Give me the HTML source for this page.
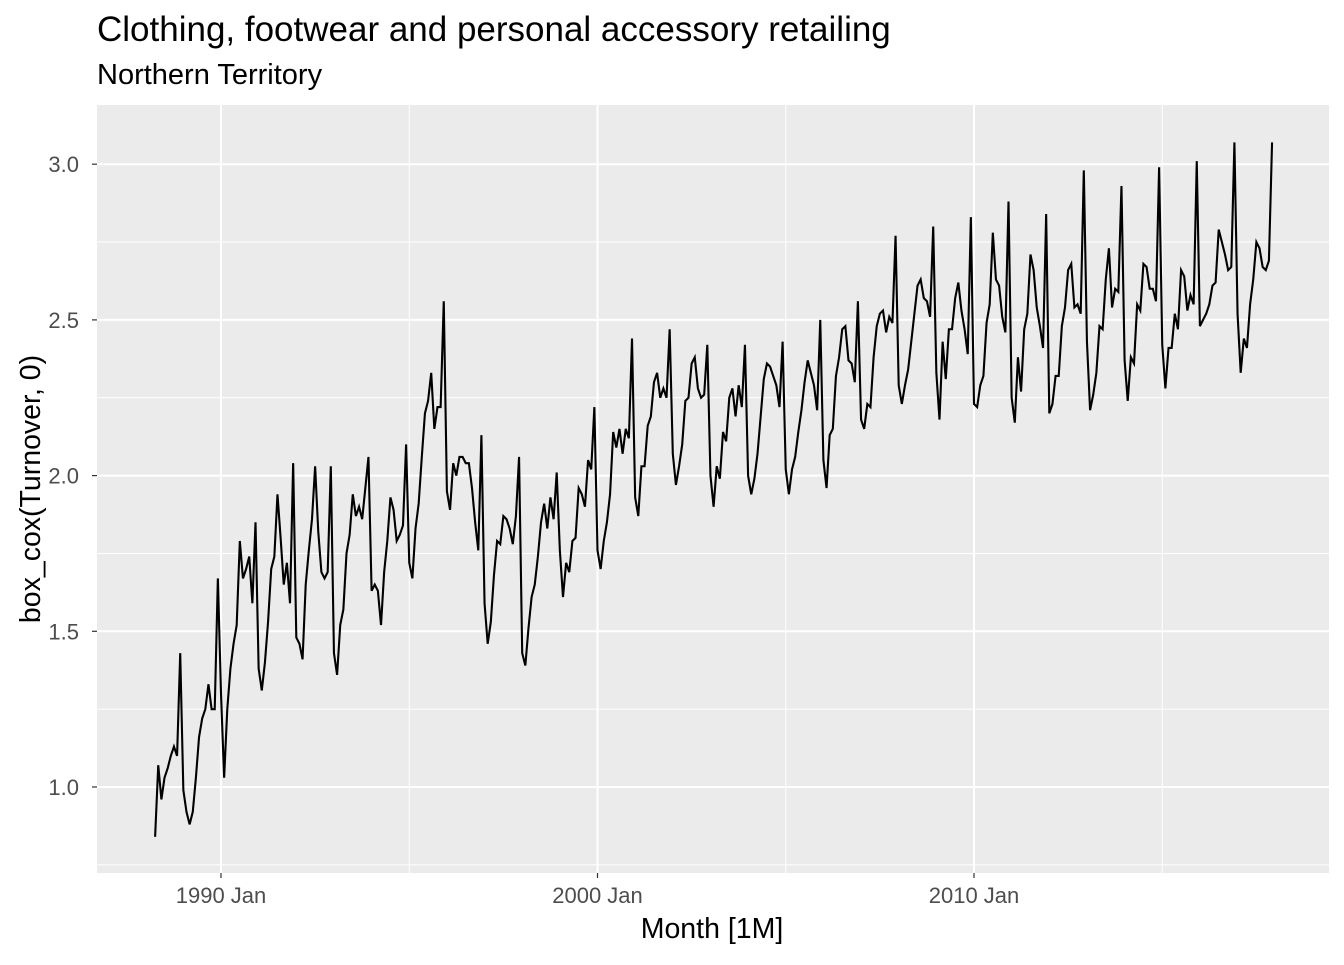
<!DOCTYPE html>
<html><head><meta charset="utf-8"><style>
body{margin:0;background:#fff;}
svg text{font-family:"Liberation Sans",sans-serif;}
</style></head><body>
<svg id="chart" width="1344" height="960">
<rect width="1344" height="960" fill="#fff"/>
<text x="97" y="41" font-size="35" fill="#000">Clothing, footwear and personal accessory retailing</text>
<text x="97" y="84" font-size="29" fill="#000">Northern Territory</text>
<rect x="97" y="105" width="1232" height="768" fill="#ebebeb"/>
<g id="grid"></g>
<g id="ticks"></g>
<path id="series" fill="none" stroke="#000" stroke-width="2.1"/>
<text x="712" y="938" font-size="28.5" text-anchor="middle">Month [1M]</text>
<text transform="translate(40,489) rotate(-90)" font-size="28.5" text-anchor="middle">box_cox(Turnover, 0)</text>
</svg>
<script>
const startYear=1988, startMonth=3; // April (0-based)
const values=[
0.84,1.07,0.96,1.03,1.06,1.10,1.13,1.10,1.43,
0.99,0.92,0.88,0.92,1.03,1.16,1.22,1.25,1.33,1.25,1.25,1.67,
1.30,1.03,1.25,1.38,1.46,1.52,1.79,1.67,1.70,1.74,1.59,1.85,
1.38,1.31,1.40,1.53,1.70,1.74,1.94,1.80,1.65,1.72,1.59,2.04,
1.48,1.46,1.41,1.65,1.76,1.86,2.03,1.82,1.69,1.67,1.69,2.03,
1.43,1.36,1.52,1.57,1.75,1.81,1.94,1.87,1.90,1.86,1.96,2.06,
1.63,1.65,1.63,1.52,1.69,1.79,1.93,1.89,1.79,1.81,1.84,2.10,
1.72,1.67,1.83,1.91,2.06,2.20,2.24,2.33,2.15,2.22,2.22,2.56,
1.95,1.89,2.04,2.00,2.06,2.06,2.04,2.04,1.96,1.85,1.76,2.13,
1.59,1.46,1.53,1.68,1.79,1.78,1.87,1.86,1.83,1.78,1.87,2.06,
1.43,1.39,1.51,1.61,1.65,1.74,1.85,1.91,1.83,1.93,1.86,2.01,
1.76,1.61,1.72,1.69,1.79,1.80,1.96,1.94,1.90,2.05,2.02,2.22,
1.76,1.70,1.79,1.85,1.94,2.14,2.09,2.15,2.07,2.15,2.12,2.44,
1.93,1.87,2.03,2.03,2.16,2.19,2.30,2.33,2.25,2.28,2.25,2.47,
2.07,1.97,2.03,2.10,2.24,2.25,2.36,2.38,2.28,2.25,2.26,2.42,
2.00,1.90,2.03,1.99,2.14,2.11,2.25,2.28,2.19,2.29,2.22,2.42,
2.00,1.94,1.99,2.07,2.19,2.31,2.36,2.35,2.32,2.29,2.22,2.43,
2.02,1.94,2.02,2.06,2.14,2.21,2.30,2.37,2.33,2.29,2.21,2.50,
2.05,1.96,2.13,2.15,2.32,2.38,2.47,2.48,2.37,2.36,2.30,2.56,
2.18,2.15,2.23,2.22,2.38,2.48,2.52,2.53,2.46,2.51,2.49,2.77,
2.29,2.23,2.29,2.34,2.43,2.52,2.61,2.63,2.57,2.56,2.51,2.80,
2.33,2.18,2.43,2.31,2.47,2.47,2.57,2.62,2.53,2.47,2.39,2.83,
2.23,2.22,2.29,2.32,2.49,2.55,2.78,2.63,2.61,2.51,2.46,2.88,
2.25,2.17,2.38,2.27,2.47,2.52,2.71,2.66,2.54,2.48,2.41,2.84,
2.20,2.23,2.32,2.32,2.48,2.54,2.66,2.68,2.54,2.55,2.52,2.98,
2.43,2.21,2.26,2.33,2.48,2.47,2.63,2.73,2.54,2.60,2.59,2.93,
2.37,2.24,2.38,2.36,2.55,2.53,2.68,2.67,2.60,2.60,2.56,2.99,
2.42,2.28,2.41,2.41,2.52,2.47,2.66,2.64,2.53,2.58,2.55,3.01,
2.48,2.50,2.52,2.55,2.61,2.62,2.79,2.75,2.71,2.66,2.67,3.07,
2.52,2.33,2.44,2.41,2.55,2.63,2.75,2.73,2.67,2.66,2.69,3.07
];
const yTicks=[1.0,1.5,2.0,2.5,3.0];
const yTickLabels=["1.0","1.5","2.0","2.5","3.0"];
const xTickYears=[1990,2000,2010];
const xTickLabels=["1990 Jan","2000 Jan","2010 Jan"];
const xMinorYears=[1995,2005,2015];
const yMinor=[0.75,1.25,1.75,2.25,2.75];

const NS="http://www.w3.org/2000/svg";
const PX0=97,PX1=1329,PY0=105,PY1=873;
function xScale(monthsFrom1990){return 221+monthsFrom1990*3.1375;}
function xOfYear(y){return xScale((y-1990)*12);}
function yScale(v){return 787-(v-1)*311.4;}
function mk(tag,attrs,parent){const e=document.createElementNS(NS,tag);for(const k in attrs)e.setAttribute(k,attrs[k]);parent.appendChild(e);return e;}
const grid=document.getElementById('grid'),ticks=document.getElementById('ticks');
yMinor.forEach(v=>{const y=yScale(v);if(y>PY0&&y<PY1){const l=mk('line',{x1:PX0,x2:PX1,y1:y,y2:y,stroke:'#fff','stroke-width':1},grid);

}});
xMinorYears.forEach(yr=>{const x=xOfYear(yr);const l=mk('line',{x1:x,x2:x,y1:PY0,y2:PY1,stroke:'#fff','stroke-width':1},grid);

});
yTicks.forEach((v,i)=>{const y=yScale(v);const l=mk('line',{x1:PX0,x2:PX1,y1:y,y2:y,stroke:'#fff','stroke-width':2},grid);


const t=mk('line',{x1:PX0-5,x2:PX0,y1:y,y2:y,stroke:'#333','stroke-width':1.2},ticks);


const tx=mk('text',{x:PX0-18,y:y+8,'font-size':22,fill:'#4d4d4d','text-anchor':'end'},ticks);tx.textContent=yTickLabels[i];

});
xTickYears.forEach((yr,i)=>{const x=xOfYear(yr);const l=mk('line',{x1:x,x2:x,y1:PY0,y2:PY1,stroke:'#fff','stroke-width':2},grid);


const t=mk('line',{x1:x,x2:x,y1:PY1,y2:PY1+5,stroke:'#333','stroke-width':1.2},ticks);


const tx=mk('text',{x:x,y:PY1+30,'font-size':22,fill:'#4d4d4d','text-anchor':'middle'},ticks);tx.textContent=xTickLabels[i];

});
let d='';
const off=(startYear-1990)*12+startMonth;
values.forEach((v,i)=>{d+=(i?'L':'M')+xScale(off+i).toFixed(2)+','+yScale(v).toFixed(2);});
document.getElementById('series').setAttribute('d',d);
</script>
</body></html>
